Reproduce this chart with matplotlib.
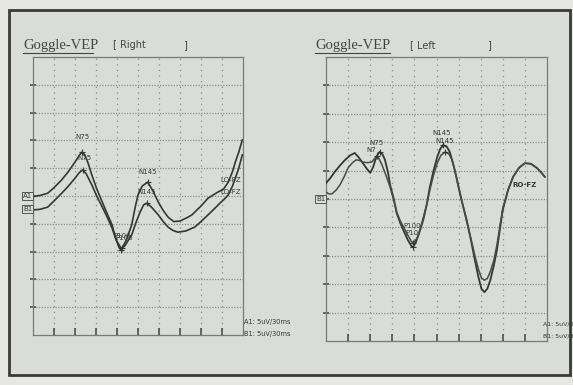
import matplotlib
matplotlib.use('Agg')
import matplotlib.pyplot as plt
from matplotlib.patches import Rectangle
from matplotlib.lines import Line2D

# Right eye (left panel), time in ms, amplitude in uV
right_t_a1 = [0, 10, 21, 30, 41, 50, 60, 66, 70, 74, 79, 84, 91, 99, 106, 113, 118, 123, 126, 133, 141, 146,
              150, 156, 164, 171, 179, 186, 193, 201, 210, 220, 227, 240, 250, 264, 272, 279, 285, 289, 294, 299]
right_a1 = [-0.1, 0.1, 0.5, 1.5, 2.9, 4.3, 6.1, 7.3, 7.9, 7.4, 5.8, 3.8, 1.3, -1.1, -3.2, -5.2, -7.5, -9.3, -9.7,
            -8.0, -5.2, -2.0, 0.2, 1.8, 2.5, 1.0, -1.1, -2.6, -3.8, -4.6, -4.5, -3.9, -3.4, -1.8, -0.4, 0.7, 1.2,
            2.5, 4.4, 6.1, 7.9, 10.1]
right_t_b1 = [0, 10, 21, 30, 41, 50, 60, 66, 71, 76, 84, 91, 99, 106, 113, 119, 126, 131, 136, 141, 147, 153, 158,
              163, 170, 179, 186, 193, 200, 207, 218, 231, 240, 250, 259, 267, 273, 279, 285, 289, 294, 299]
right_b1 = [-2.5, -2.4, -2.0, -0.9, 0.5, 1.7, 3.2, 4.2, 4.7, 4.0, 2.0, 0.0, -2.0, -3.8, -5.8, -8.0, -9.4, -9.0,
            -8.0, -7.0, -4.8, -2.9, -1.6, -1.3, -2.1, -3.4, -4.6, -5.6, -6.2, -6.5, -6.3, -5.6, -4.6, -3.4, -2.3,
            -1.3, -0.6, 0.2, 1.8, 3.2, 5.0, 7.4]

# Left eye (right panel)
left_t_a = [0, 6, 12, 19, 26, 33, 39, 44, 49, 55, 60, 64, 67, 70, 73, 77, 80, 84, 87, 92, 96, 101, 105, 111, 116,
            118, 122, 127, 132, 137, 141, 146, 151, 155, 159, 164, 168, 173, 178, 184, 191, 197, 202, 207, 211,
            215, 219, 223, 228, 232, 236, 240, 247, 254, 262, 270, 278, 286, 292, 297]
left_a = [2.8, 3.7, 4.8, 5.9, 6.9, 7.7, 8.1, 7.4, 6.5, 5.4, 4.6, 5.6, 6.9, 7.8, 8.3, 7.8, 6.9, 4.8, 2.5, 0.0, -2.5,
          -4.3, -5.5, -7.2, -8.3, -8.5, -7.6, -5.8, -3.7, -0.8, 2.1, 5.0, 7.4, 8.8, 9.5, 9.2, 8.3, 6.0, 3.3, -0.2,
          -3.7, -7.4, -10.7, -13.8, -15.8, -16.4, -15.8, -14.3, -11.6, -9.0, -5.4, -1.9, 1.5, 3.9, 5.5, 6.3, 6.2,
          5.5, 4.7, 3.9]
left_t_b = [0, 4, 8, 14, 19, 25, 30, 36, 41, 45, 50, 56, 62, 66, 69, 72, 76, 81, 87, 92, 96, 101, 106, 112, 116,
            119, 124, 128, 132, 137, 141, 146, 151, 156, 162, 167, 171, 175, 179, 185, 191, 197, 202, 207, 211,
            215, 219, 223, 228, 232, 236, 240, 247, 254, 262, 270, 278, 286, 292, 297]
left_b = [1.2, 0.9, 0.9, 1.6, 2.5, 4.0, 5.5, 6.4, 6.9, 6.8, 6.5, 6.4, 6.5, 7.1, 7.6, 7.1, 6.0, 4.3, 2.1, -0.2, -2.3,
          -3.9, -5.1, -6.6, -7.5, -7.7, -6.8, -5.2, -3.3, -0.9, 1.6, 4.2, 6.3, 7.7, 8.3, 7.9, 6.9, 5.0, 2.5, -0.7,
          -4.0, -7.1, -9.9, -12.4, -13.9, -14.3, -14.0, -12.8, -10.7, -8.1, -4.8, -1.6, 1.6, 3.9, 5.5, 6.3, 6.2,
          5.5, 4.7, 3.9]

# peak labels: (text, t, uV)
right_labels = [('N75', 70, 10.6), ('N75', 73, 6.8), ('N145', 164, 4.3), ('N145', 163, 0.7),
                ('P100', 127, -7.2), ('P100', 130, -7.6), ('LO-FZ', 283, 2.9), ('LO-FZ', 283, 0.7)]
right_marks = [(70, 7.9), (71, 4.7), (164, 2.5), (163, -1.3), (126, -9.7), (127, -9.4)]
left_labels = [('N75', 68, 9.9), ('N7', 62, 8.6), ('N145', 157, 11.6), ('N145', 161, 10.2),
               ('P100', 117, -4.8), ('P10', 117, -6.0)]
left_marks = [(73, 8.3), (69, 7.6), (159, 9.5), (162, 8.3), (118, -8.5), (118, -7.7)]

bg = '#d9dcd8'
ink = '#363636'
grid = '#8c8c8c'

fig = plt.figure(figsize=(5.73, 3.85), dpi=100, facecolor='#e6e7e5')
# photo border
fig.patches.append(Rectangle((9 / 573, 10 / 385), 561 / 573, 365 / 385, transform=fig.transFigure,
                             facecolor=bg, edgecolor='#3a3a3a', linewidth=2.0, zorder=-5))


def panel(rect):
    ax = fig.add_axes(rect)
    ax.set_facecolor('none')
    ax.set_xlim(0, 300)
    ax.set_ylim(-25, 25)
    for y in range(-20, 25, 5):
        ax.axhline(y, color=grid, lw=0.9, ls=(0, (1, 1.2)), zorder=1)
    for x in range(30, 300, 30):
        ax.axvline(x, color=grid, lw=0.9, ls=(0, (1, 3.5)), zorder=1)
    for s in ax.spines.values():
        s.set_color('#7a7a7a')
        s.set_linewidth(0.9)
    ax.set_xticks(range(30, 300, 30))
    ax.set_yticks(range(-20, 25, 5))
    ax.tick_params(axis='x', direction='in', length=5, width=1.1, color='#444444', labelbottom=False)
    ax.tick_params(axis='y', direction='inout', length=4, width=1.1, color='#444444', labelleft=False)
    return ax


axL = panel([33 / 573, 50 / 385, 210 / 573, 278 / 385])
axR = panel([326 / 573, 44 / 385, 221 / 573, 284 / 385])

axL.plot(right_t_a1, right_a1, color=ink, lw=1.2, zorder=3)
axL.plot(right_t_b1, right_b1, color=ink, lw=1.2, zorder=3)
axR.plot(left_t_a, left_a, color=ink, lw=1.3, zorder=3)
axR.plot(left_t_b, left_b, color='#4a4a4a', lw=1.1, zorder=3)

for ax, labels, marks in [(axL, right_labels, right_marks), (axR, left_labels, left_marks)]:
    for txt, t, v in labels:
        ax.text(t, v, txt, fontsize=5, color=ink, ha='center', va='center', zorder=4)
    for t, v in marks:
        ax.plot(t, v, marker='+', ms=5, mew=0.8, color=ink, zorder=4)

axR.text(270, 2.5, 'RO-FZ', fontsize=5, color=ink, ha='center', va='center', fontweight='bold', zorder=4)

box = dict(boxstyle='square,pad=0.15', facecolor=bg, edgecolor='#555555', lw=0.7)
axL.text(-1, 0.0, 'A1', fontsize=5, color=ink, ha='right', va='center', bbox=box, clip_on=False)
axL.text(-1, -2.4, 'B1', fontsize=5, color=ink, ha='right', va='center', bbox=box, clip_on=False)
axR.text(-1, 0.0, 'B1', fontsize=5, color=ink, ha='right', va='center', bbox=box, clip_on=False)

# scale notes
fig.text(244 / 573, 1 - 322 / 385, 'A1: 5uV/30ms', fontsize=4.8, color=ink, va='center')
fig.text(244 / 573, 1 - 334 / 385, 'B1: 5uV/30ms', fontsize=4.8, color=ink, va='center')
fig.text(543 / 573, 1 - 324 / 385, 'A1: 5uV/3', fontsize=4.5, color=ink, va='center')
fig.text(543 / 573, 1 - 336 / 385, 'B1: 5uV/3', fontsize=4.5, color=ink, va='center')

# titles
for x0, x1, side, xs, xb in [(23, 93, '[ Right', 113, 183), (315, 390, '[ Left', 410, 487)]:
    fig.text(x0 / 573, 1 - 45 / 385, 'Goggle-VEP', fontsize=10.5, family='Liberation Serif',
             color='#444444', va='center')
    fig.add_artist(Line2D([x0 / 573, x1 / 573], [1 - 53 / 385] * 2, color='#444444', lw=0.8))
    fig.text(xs / 573, 1 - 45 / 385, side, fontsize=7, color='#444444', va='center')
    fig.text(xb / 573, 1 - 45 / 385, ']', fontsize=7, color='#444444', va='center')

fig.savefig('out.png', dpi=100, facecolor=fig.get_facecolor())
